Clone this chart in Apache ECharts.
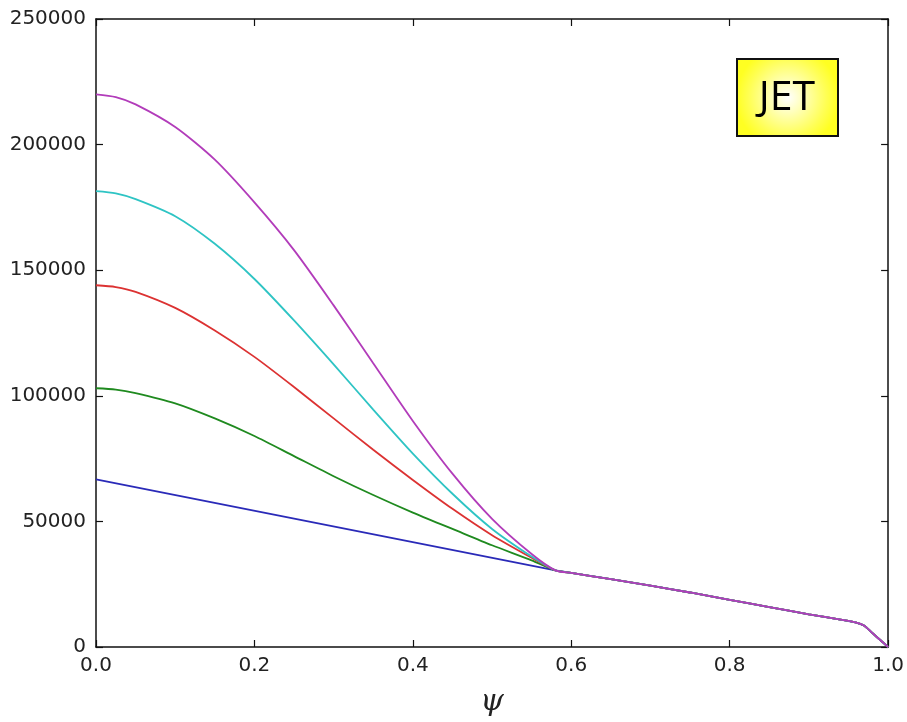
<!DOCTYPE html>
<html>
<head>
<meta charset="utf-8">
<script src="https://cdn.jsdelivr.net/npm/echarts@6/dist/echarts.min.js"></script>
<style>
  html, body { margin: 0; padding: 0; background: #fff; }
  #chart { width: 907px; height: 722px; }
</style>
</head>
<body>
<div id="chart"></div>
<script>
// psi grid for the core (0 .. 0.58) where curves differ
const psiCore = [0, 0.025, 0.05, 0.1, 0.15, 0.2, 0.25, 0.3, 0.35, 0.4, 0.45, 0.5, 0.55, 0.58];
const magentaCore = [220000, 218900, 216000, 207000, 194000, 177000, 158000, 136000, 113000, 90000, 69000, 51000, 37000, 30500];
const cyanCore    = [181500, 180600, 178300, 171500, 160500, 146500, 130000, 112500, 94500, 77000, 61000, 47000, 36000, 30500];
const redCore     = [144000, 143300, 141400, 135000, 126000, 115500, 103500, 91000, 78500, 66500, 55000, 44500, 35500, 30500];
const greenCore   = [103000, 102500, 101100, 97000, 91000, 84000, 76000, 68000, 60500, 53500, 47000, 40500, 34500, 30500];
const bluePsi     = [0, 0.58];
const blueCore    = [66700, 30500];

// shared edge part (0.58 .. 1.0)
const psiTail = [0.6, 0.65, 0.7, 0.75, 0.8, 0.85, 0.9, 0.94, 0.96, 0.97, 0.98, 0.99, 1.0];
const tailVals = [29500, 27000, 24400, 21700, 18800, 15900, 13000, 10900, 9700, 8500, 5600, 2800, 0];

const xTicks = ['0.0', '0.2', '0.4', '0.6', '0.8', '1.0'];

const lines = [
  { name: 'b', psi: bluePsi, vals: blueCore, color: '#2a2ab8', smooth: false },
  { name: 'g', psi: psiCore, vals: greenCore, color: '#1f8a1f', smooth: 0.25 },
  { name: 'r', psi: psiCore, vals: redCore, color: '#dc3232', smooth: 0.25 },
  { name: 'c', psi: psiCore, vals: cyanCore, color: '#2ec4c4', smooth: 0.25 },
  { name: 'm', psi: psiCore, vals: magentaCore, color: '#b23cba', smooth: 0.25 }
];

function buildData(psi, vals) {
  const d = psi.map((p, i) => [p, vals[i]]);
  psiTail.forEach((p, i) => d.push([p, tailVals[i]]));
  return d;
}

const chart = echarts.init(document.getElementById('chart'));

const labelFont = { fontFamily: 'DejaVu Sans', fontSize: 20, color: '#222' };
const frameLine = { show: true, onZero: false, lineStyle: { color: '#111', width: 1.5 } };
const tick = { show: true, inside: true, length: 7, lineStyle: { color: '#111', width: 1.2 } };

chart.setOption({
  animation: false,
  backgroundColor: '#fff',
  grid: { left: 96, top: 19, right: 16, bottom: 70 },
  xAxis: [
    {
      type: 'value', min: 0, max: 1, interval: 0.2,
      axisLine: frameLine, axisTick: tick, splitLine: { show: false },
      axisLabel: Object.assign({ margin: 9, formatter: v => xTicks[Math.round(v / 0.2)] }, labelFont),
      name: 'ψ', nameLocation: 'middle', nameGap: 40,
      nameTextStyle: { fontFamily: 'DejaVu Serif', fontStyle: 'italic', fontSize: 30, color: '#222' }
    },
    {
      type: 'value', min: 0, max: 1, interval: 0.2, position: 'top',
      axisLine: frameLine, axisTick: tick, axisLabel: { show: false }, splitLine: { show: false }
    }
  ],
  yAxis: [
    {
      type: 'value', min: 0, max: 250000, interval: 50000,
      axisLine: frameLine, axisTick: tick, splitLine: { show: false },
      axisLabel: Object.assign({ margin: 10, formatter: v => String(v) }, labelFont)
    },
    {
      type: 'value', min: 0, max: 250000, interval: 50000, position: 'right',
      axisLine: frameLine, axisTick: tick, axisLabel: { show: false }, splitLine: { show: false }
    }
  ],
  series: lines.map(l => ({
    name: l.name,
    type: 'line',
    smooth: l.smooth,
    showSymbol: false,
    data: buildData(l.psi, l.vals),
    lineStyle: { color: l.color, width: 1.8 },
    itemStyle: { color: l.color }
  })),
  graphic: [
    {
      type: 'rect',
      left: 736, top: 58,
      shape: { width: 101, height: 77 },
      style: {
        fill: {
          type: 'radial', x: 0.5, y: 0.5, r: 0.65,
          colorStops: [{ offset: 0, color: '#ffffff' }, { offset: 0.75, color: '#ffff55' }, { offset: 1, color: '#ffff22' }]
        },
        stroke: '#111', lineWidth: 2
      }
    },
    {
      type: 'text',
      x: 787, y: 98,
      style: {
        text: 'JET', font: '41px "Open Sans", sans-serif', fill: '#000',
        align: 'center', verticalAlign: 'middle'
      }
    }
  ]
});
</script>
</body>
</html>
